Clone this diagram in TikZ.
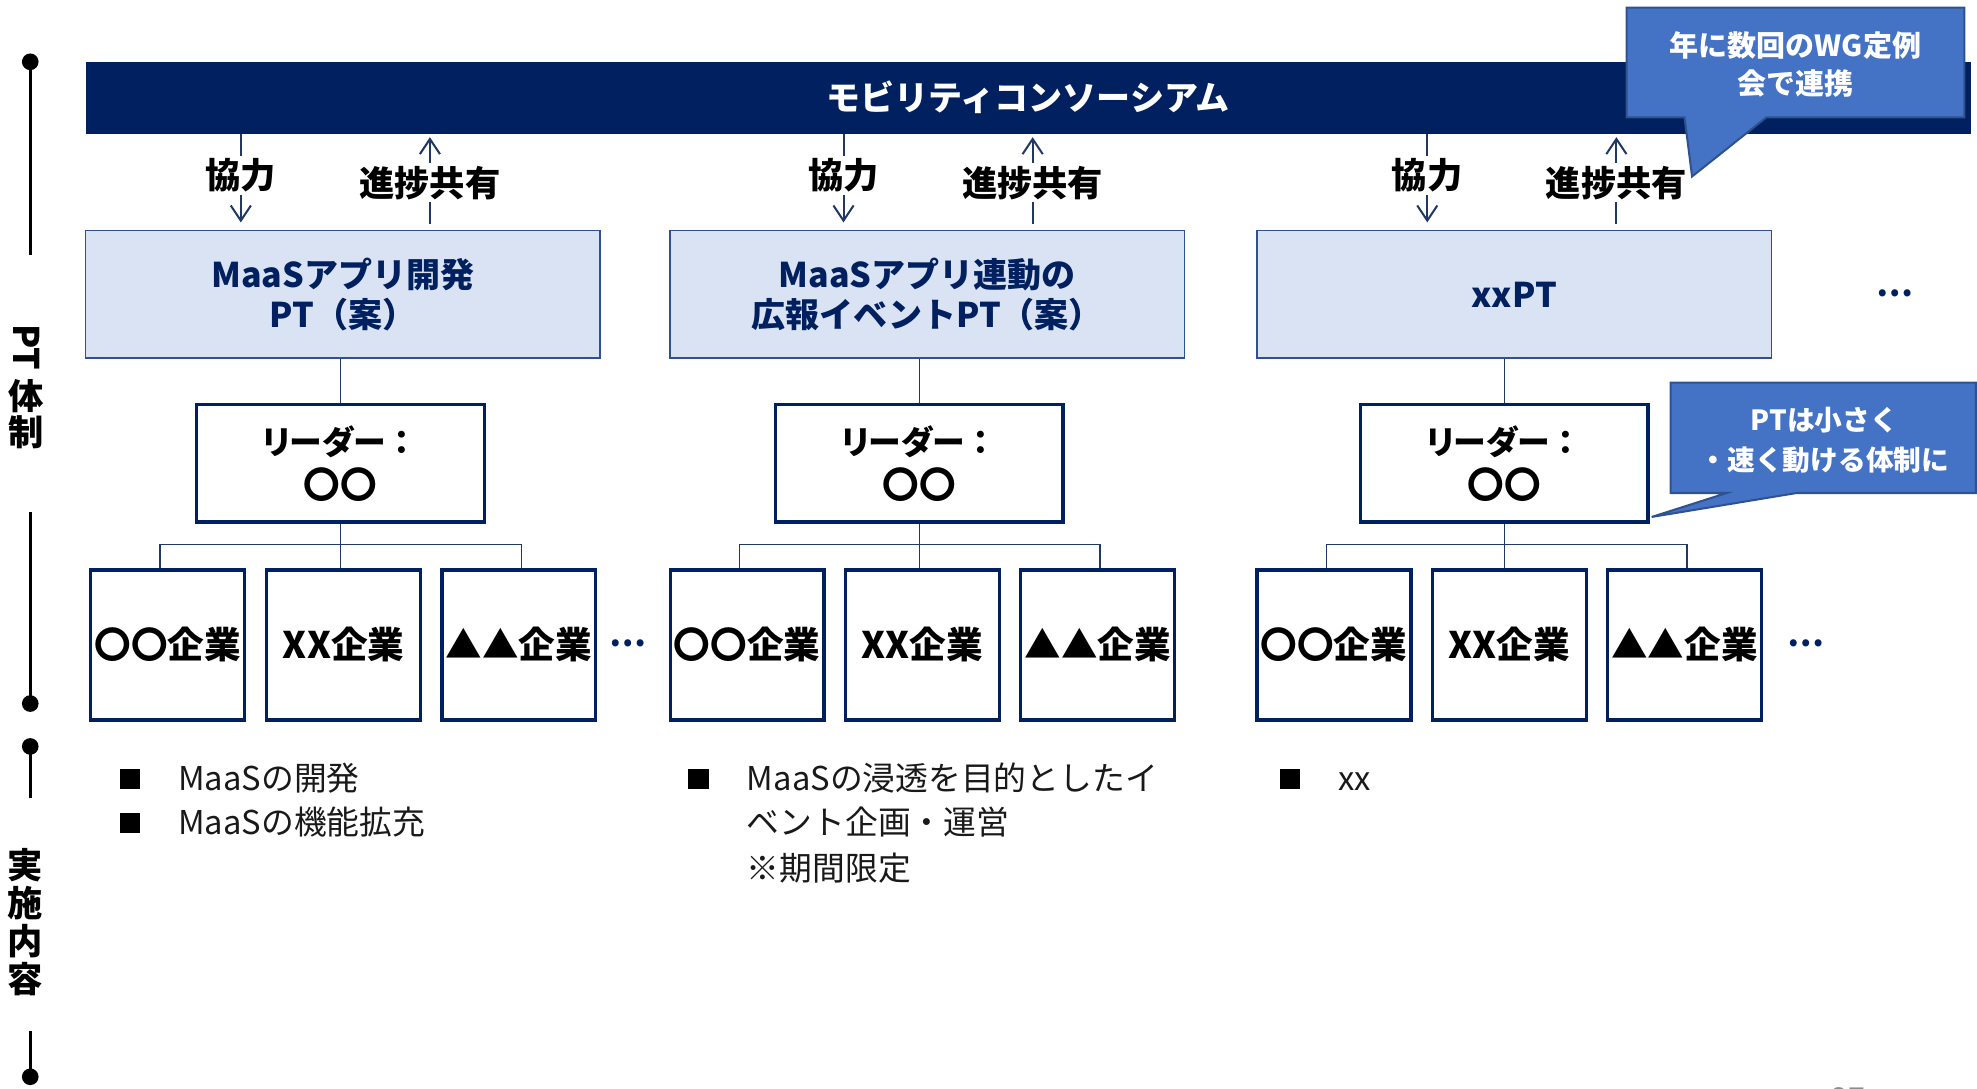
\documentclass[tikz,border=0pt]{standalone}
\usepackage{fontspec}
\setmainfont{Noto Sans CJK JP}
\newfontfamily\paltfont{Noto Sans CJK JP}[RawFeature=+palt]
\usetikzlibrary{arrows.meta}
\definecolor{navy}{HTML}{002060}
\definecolor{ptfill}{HTML}{DAE3F3}
\definecolor{ptline}{HTML}{2F528F}
\definecolor{callfill}{HTML}{4472C4}
\definecolor{callline}{HTML}{2F528F}
\definecolor{connc}{HTML}{1F3864}
\newcommand{\leadertext}{{\fontsize{13}{17.5}\selectfont{\paltfont リーダー}：}\\{\fontsize{14.5}{17.5}\selectfont 〇〇}}
\begin{document}
\begin{tikzpicture}[x=0.5pt,y=-0.5pt,
 bar/.style={fill=navy, minimum width=747.5pt, minimum height=28.5pt, inner sep=0pt, text=white, font=\bfseries\fontsize{13.5}{16}\selectfont},
 ptbox/.style={draw=ptline, line width=0.6pt, fill=ptfill, minimum width=204pt, minimum height=50.5pt, inner sep=0pt, align=center, text=navy, font=\bfseries\fontsize{13.5}{16}\selectfont},
 leader/.style={draw=navy, line width=1.3pt, fill=white, minimum width=114pt, minimum height=46.5pt, inner sep=0pt, align=center, font=\bfseries\fontsize{13}{17.5}\selectfont},
 company/.style={draw=navy, line width=1.3pt, fill=white, minimum width=61pt, minimum height=59.5pt, inner sep=0pt, font=\bfseries\fontsize{14.5}{16}\selectfont},
 lbl/.style={fill=white, inner sep=1pt, font=\bfseries\fontsize{14}{16}\selectfont},
 arr/.style={draw=connc, line width=0.8pt, -{Straight Barb[length=6pt,width=8pt]}},
 conn/.style={draw=connc, line width=0.5pt},
 dots/.style={text=navy, font=\bfseries\fontsize{13}{14}\selectfont, inner sep=0pt},
 callout/.style={fill=callfill, draw=callline, line width=0.8pt},
 calltext/.style={text=white, align=center, inner sep=0pt, font=\bfseries\fontsize{11.5}{15}\selectfont},
 bul/.style={fill=black, minimum size=8pt, inner sep=0pt},
 btext/.style={anchor=west, inner sep=0pt, text height=11pt, text depth=2pt, font=\fontsize{13}{16}\selectfont, text=black!90},
 side/.style={font=\bfseries\fontsize{14}{15}\selectfont, inner sep=0pt},
 tl/.style={line width=1.3pt},
]
\useasboundingbox (0,0) rectangle (1568,863);
\clip (0,0) rectangle (1568,863);

% left timeline
\draw[tl] (24,49) -- (24,202);
\fill (24,49) circle (3.3pt);
\draw[tl] (24,406) -- (24,558);
\fill (24,558) circle (3.3pt);
\draw[tl] (24,592) -- (24,633);
\fill (24,592) circle (3.3pt);
\draw[tl] (24,818) -- (24,854);
\fill (24,854) circle (3.3pt);
\node[side, rotate=-90] (sPT) at (21,275.5) {PT};
\node[side] (sTai) at (21,314.5) {体};
\node[side] (sSei) at (21,343) {制};
\node[side, align=center] (sJis) at (20,731.5) {実\\施\\内\\容};

% header bar
\node[bar] (cons) at (815.5,77.5) {モビリティコンソーシアム};

% PT boxes
\node[ptbox] (pt1) at (272,233.5) {MaaSアプリ開発\\PT（案）};
\node[ptbox] (pt2) at (735.5,233.5) {MaaSアプリ連動の\\広報イベントPT（案）};
\node[ptbox] (pt3) at (1201,233.5) {xxPT};
\node[dots] (e0) at (1503,233) {…};

% arrows between consortium and PTs
\draw[arr, shorten >=3pt] (cons.south -| 191,0) -- (pt1.north -| 191,0);
\node[lbl] (k1) at (191,139) {協力};
\draw[arr, shorten >=1.2pt, shorten <=2.5pt] (pt1.north -| 341,0) -- (cons.south -| 341,0);
\node[lbl] (s1) at (341,145) {進捗共有};

\draw[arr, shorten >=3pt] (cons.south -| 669,0) -- (pt2.north -| 669,0);
\node[lbl] (k2) at (669,139) {協力};
\draw[arr, shorten >=1.2pt, shorten <=2.5pt] (pt2.north -| 819,0) -- (cons.south -| 819,0);
\node[lbl] (s2) at (819,145) {進捗共有};

\draw[arr, shorten >=3pt] (cons.south -| 1132,0) -- (pt3.north -| 1132,0);
\node[lbl] (k3) at (1132,139) {協力};
\draw[arr, shorten >=1.2pt, shorten <=2.5pt] (pt3.north -| 1282,0) -- (cons.south -| 1282,0);
\node[lbl] (s3) at (1282,145) {進捗共有};

% callout 1
\draw[callout] (1290,6) -- (1558,6) -- (1558,93) -- (1401,93) -- (1342,140) -- (1336,93) -- (1290,93) -- cycle;
\node[calltext] (c1t) at (1424,51) {年に数回のWG定例\\会で連携};

% leaders
\node[leader] (L1) at (270,367.5) {\leadertext};
\node[leader] (L2) at (729,367.5) {\leadertext};
\node[leader] (L3) at (1193,367.5) {\leadertext};
\draw[conn] (L1.north) -- (L1.north |- pt1.south);
\draw[conn] (L2.north) -- (L2.north |- pt2.south);
\draw[conn] (L3.north) -- (L3.north |- pt3.south);

% companies column 1
\node[company] (a1) at (133,511.5) {〇〇企業};
\node[company] (b1) at (272.5,511.5) {XX企業};
\node[company] (d1) at (411.5,511.5) {▲▲企業};
\draw[conn] ([xshift=-3pt]a1.north) |- ([xshift=1pt]d1.north |- 0,432) -- ([xshift=1pt]d1.north);
\draw[conn] (L1.south) -- (L1.south |- b1.north);
\node[dots] (e1) at (498,510) {…};

% companies column 2
\node[company] (a2) at (592.5,511.5) {〇〇企業};
\node[company] (b2) at (731.5,511.5) {XX企業};
\node[company] (d2) at (870.5,511.5) {▲▲企業};
\draw[conn] ([xshift=-3pt]a2.north) |- ([xshift=1pt]d2.north |- 0,432) -- ([xshift=1pt]d2.north);
\draw[conn] (L2.south) -- (L2.south |- b2.north);

% companies column 3
\node[company] (a3) at (1058,511.5) {〇〇企業};
\node[company] (b3) at (1197,511.5) {XX企業};
\node[company] (d3) at (1336,511.5) {▲▲企業};
\draw[conn] ([xshift=-3pt]a3.north) |- ([xshift=1pt]d3.north |- 0,432) -- ([xshift=1pt]d3.north);
\draw[conn] (L3.south) -- (L3.south |- b3.north);
\node[dots] (e3) at (1432,510) {…};

% callout 2
\draw[callout] (1325,303.5) -- (1567,303.5) -- (1567,391) -- (1425,391) -- (1310,410) -- (1369.5,391) -- (1325,391) -- cycle;
\node[calltext, font=\bfseries\fontsize{11}{16}\selectfont] (c2t) at (1447,349) {PTは小さく\\・速く動ける体制に};

% bullet lists
\node[bul] (m1) at (103,618) {};
\node[btext] (t11) at (141,618) {MaaSの開発};
\node[bul] (m2) at (103,653) {};
\node[btext] (t12) at (141,653) {MaaSの機能拡充};
\node[bul] (m3) at (554,618) {};
\node[btext] (t21) at (592,618) {MaaSの浸透を目的としたイ};
\node[btext] (t22) at (592,653) {ベント企画・運営};
\node[btext] (t23) at (592,689) {※期間限定};
\node[bul] (m4) at (1023,618) {};
\node[btext] (t31) at (1061,618) {xx};

% page number (cut off at the lower edge, as in the reference)
\node[text=black!45, font=\fontsize{12}{14}\selectfont] (pg) at (1466,871) {27};
\end{tikzpicture}
\end{document}
